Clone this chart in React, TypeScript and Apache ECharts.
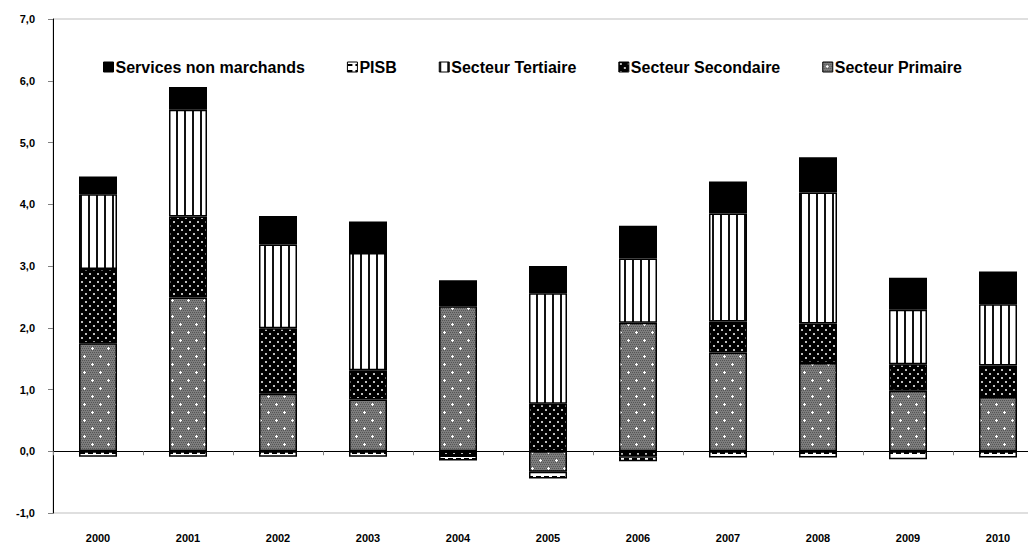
import React, { useEffect, useRef } from "react";
import * as echarts from "echarts";

const years = ["2000", "2001", "2002", "2003", "2004", "2005", "2006", "2007", "2008", "2009", "2010"];
const primaire = [1.75, 2.49, 0.93, 0.84, 2.35, -0.33, 2.08, 1.6, 1.43, 0.98, 0.88];
const secondaire = [1.2, 1.31, 1.06, 0.47, -0.07, 0.77, -0.08, 0.5, 0.64, 0.43, 0.51];
const tertiaire = [1.21, 1.73, 1.36, 1.9, 0, 1.79, 1.04, 1.75, 2.12, 0.88, 0.99];
const pisb = [-0.09, -0.09, -0.09, -0.09, -0.08, -0.11, -0.08, -0.1, -0.1, -0.13, -0.1];
const servicesNM = [0.29, 0.37, 0.46, 0.51, 0.42, 0.44, 0.53, 0.52, 0.57, 0.52, 0.53];
const legendOrder = ["Services non marchands", "PISB", "Secteur Tertiaire", "Secteur Secondaire", "Secteur Primaire"];

function makeTile(w: number, h: number, draw: (c: CanvasRenderingContext2D) => void): string {
  const cv = document.createElement("canvas");
  cv.width = w;
  cv.height = h;
  const ctx = cv.getContext("2d")!;
  draw(ctx);
  return cv.toDataURL();
}

export default function App() {
  const ref = useRef<HTMLDivElement>(null);
  useEffect(() => {
    if (!ref.current) return;
    const chart = echarts.init(ref.current, null, { renderer: "svg" });

    const primTile = makeTile(16, 16, (c) => {
      c.fillStyle = "#7d7d7d";
      c.fillRect(0, 0, 16, 16);
      c.fillStyle = "#555555";
      for (let y = 0; y < 16; y += 2) for (let x = 0; x < 16; x += 2) c.fillRect(x + (y % 4 === 0 ? 0 : 1), y, 1, 1);
      c.fillStyle = "#ffffff";
      const cross = (cx: number, cy: number) => {
        c.fillRect(cx - 1, cy, 3, 1);
        c.fillRect(cx, cy - 1, 1, 3);
      };
      cross(4, 4);
      cross(12, 12);
    });
    const secTile = makeTile(8, 8, (c) => {
      c.fillStyle = "#000000";
      c.fillRect(0, 0, 8, 8);
      c.fillStyle = "#bdbdbd";
      c.fillRect(1, 1, 2, 2);
      c.fillRect(5, 5, 2, 2);
    });
    const terTile = makeTile(8, 4, (c) => {
      c.fillStyle = "#ffffff";
      c.fillRect(0, 0, 8, 4);
      c.fillStyle = "#111111";
      c.fillRect(0, 0, 2, 4);
    });
    const pisbTile = makeTile(8, 6, (c) => {
      c.fillStyle = "#ffffff";
      c.fillRect(0, 0, 8, 6);
      c.fillStyle = "#000000";
      c.fillRect(0, 2, 5, 2);
    });

    const pat = (img: string) => ({ image: img, repeat: "repeat" } as any);
    const font = "Liberation Sans";

    const mk = (name: string, data: number[], color: any) => ({
      name,
      type: "bar",
      stack: "total",
      barWidth: 38,
      data,
      itemStyle: { color, borderColor: "#000000", borderWidth: 1.5 },
      emphasis: { disabled: true },
    });

    chart.setOption({
      animation: false,
      backgroundColor: "#ffffff",
      grid: {
        left: 53,
        top: 19,
        width: 990,
        height: 494,
        outerBoundsMode: "none",
        containLabel: false,
        show: true,
        borderColor: "#bfbfbf",
        borderWidth: 1,
        backgroundColor: "transparent",
      },
      legend: {
        data: legendOrder,
        top: 59,
        left: 103,
        padding: 0,
        itemWidth: 10,
        itemHeight: 10,
        itemGap: 42,
        icon: "rect",
        textStyle: { fontFamily: font, fontWeight: "bold", fontSize: 16, color: "#000000", padding: [0, 0, 0, -3] },
        itemStyle: { borderColor: "#000000", borderWidth: 1 },
      },
      xAxis: {
        type: "category",
        data: years,
        axisLine: { onZero: true, lineStyle: { color: "#000000", width: 1 } },
        axisTick: { show: true, length: 4, lineStyle: { color: "#808080" } },
        axisLabel: { margin: 19, fontFamily: font, fontWeight: "bold", fontSize: 11, color: "#000000" },
        splitLine: { show: false },
      },
      yAxis: {
        type: "value",
        min: -1,
        max: 7,
        interval: 1,
        axisLine: { show: true, lineStyle: { color: "#000000", width: 1 } },
        axisTick: { show: true, length: 5, lineStyle: { color: "#808080" } },
        splitLine: { show: false },
        axisLabel: {
          margin: 18,
          fontFamily: font,
          fontWeight: "bold",
          fontSize: 11,
          color: "#000000",
          formatter: (v: number) => v.toFixed(1).replace(".", ","),
        },
      },
      series: [
        mk("Secteur Primaire", primaire, pat(primTile)),
        mk("Secteur Secondaire", secondaire, pat(secTile)),
        mk("Secteur Tertiaire", tertiaire, pat(terTile)),
        mk("PISB", pisb, pat(pisbTile)),
        mk("Services non marchands", servicesNM, "#000000"),
      ],
    });
    return () => chart.dispose();
  }, []);
  return <div ref={ref} style={{ position: "fixed", left: 0, top: 0, width: 1028, height: 544 }} />;
}
